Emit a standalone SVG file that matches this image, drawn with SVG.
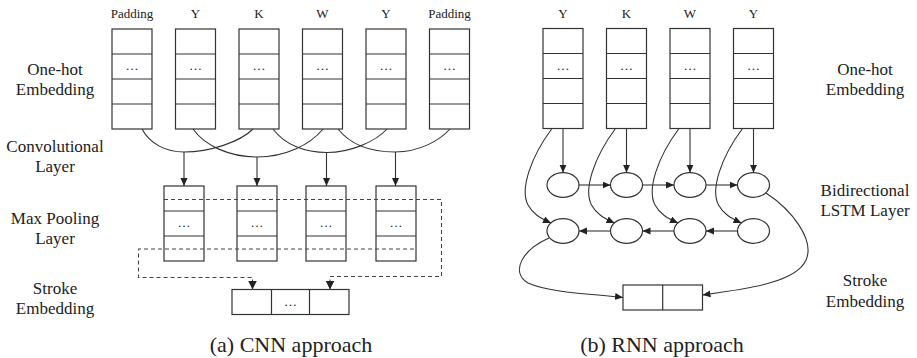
<svg xmlns="http://www.w3.org/2000/svg" width="917" height="358" viewBox="0 0 917 358">
  <style>
    text { font-family: "Liberation Serif", "Times New Roman", serif; fill: #222; text-anchor: middle; }
    .tok { font-size: 13px; }
    .lbl { font-size: 17px; }
    .cap { font-size: 22px; }
    .dots { font-size: 13px; }
    .box { fill: #fff; stroke: #333; stroke-width: 1.2; }
    .rule { stroke: #333; stroke-width: 1.2; fill: none; }
    .cell { fill: #fff; stroke: #333; stroke-width: 1.2; }
    .wire { fill: none; stroke: #333; stroke-width: 1.1; }
    .arrow { marker-end: url(#head); }
    .dash { fill: none; stroke: #444; stroke-width: 1.1; stroke-dasharray: 4 3; marker-end: url(#headBig); }
  </style>
  <defs>
    <marker id="head" markerUnits="userSpaceOnUse" markerWidth="8" markerHeight="8" refX="8" refY="3.5" orient="auto">
      <path d="M0,0 L8,3.5 L0,7 z" fill="#222"/>
    </marker>
    <marker id="headBig" markerUnits="userSpaceOnUse" markerWidth="10" markerHeight="10" refX="9" refY="4.5" orient="auto">
      <path d="M0,0 L9,4.5 L0,9 z" fill="#222"/>
    </marker>
    <!-- four-row embedding column, 40 x 100 -->
    <g id="col4">
      <rect class="box" x="0" y="0" width="40" height="100"/>
      <path class="rule" d="M0,25 H40 M0,50 H40 M0,75 H40"/>
      <text class="dots" x="20" y="41">…</text>
    </g>
    <!-- three-row pooled column, 40 x 75 -->
    <g id="col3">
      <rect class="box" x="0" y="0" width="40" height="75"/>
      <path class="rule" d="M0,25 H40 M0,50 H40"/>
      <text class="dots" x="20" y="41">…</text>
    </g>
  </defs>

  <!-- ===== (a) CNN ===== -->
  <g id="cnn-labels">
    <text class="lbl" x="55" y="75">One-hot</text>
    <text class="lbl" x="55" y="95">Embedding</text>
    <text class="lbl" x="55" y="152">Convolutional</text>
    <text class="lbl" x="55" y="172">Layer</text>
    <text class="lbl" x="55" y="224">Max Pooling</text>
    <text class="lbl" x="55" y="244">Layer</text>
    <text class="lbl" x="55" y="294">Stroke</text>
    <text class="lbl" x="55" y="314">Embedding</text>
  </g>

  <g id="cnn-in-0"><text class="tok" x="132" y="18">Padding</text><use href="#col4" x="112" y="29"/></g>
  <g id="cnn-in-1"><text class="tok" x="195.5" y="18">Y</text><use href="#col4" x="175.5" y="29"/></g>
  <g id="cnn-in-2"><text class="tok" x="259" y="18">K</text><use href="#col4" x="239" y="29"/></g>
  <g id="cnn-in-3"><text class="tok" x="322.5" y="18">W</text><use href="#col4" x="302.5" y="29"/></g>
  <g id="cnn-in-4"><text class="tok" x="386" y="18">Y</text><use href="#col4" x="366" y="29"/></g>
  <g id="cnn-in-5"><text class="tok" x="449.5" y="18">Padding</text><use href="#col4" x="429.5" y="29"/></g>

  <g id="cnn-pool-0"><use href="#col3" x="164" y="186"/></g>
  <g id="cnn-pool-1"><use href="#col3" x="237" y="186"/></g>
  <g id="cnn-pool-2"><use href="#col3" x="306" y="186"/></g>
  <g id="cnn-pool-3"><use href="#col3" x="376" y="186"/></g>

  <g id="cnn-stroke">
    <rect class="box" x="232" y="289.5" width="117" height="25"/>
    <path class="rule" d="M271.5,289.5 V314.5 M309.5,289.5 V314.5"/>
    <text class="dots" x="290.5" y="306">…</text>
  </g>

  <g id="cnn-connectors">
    <!-- convolution windows -->
    <path class="wire" d="M142,129 C150,144 166,152 184,152 C210,152 240,142 253,129"/>
    <path class="wire" d="M193,129 C205,146 230,157 257,157 C285,157 310,145 323,129"/>
    <path class="wire" d="M273,129 C285,145 305,152.5 327,152.5 C350,152.5 375,142 387,129"/>
    <path class="wire" d="M338,129 C350,144 370,152 395,152 C420,152 440,140 450,129"/>
    <path class="wire arrow" d="M184,152 V186"/>
    <path class="wire arrow" d="M257,157 V186"/>
    <path class="wire arrow" d="M326.5,152.5 V186"/>
    <path class="wire arrow" d="M395.5,152 V186"/>
    <!-- pooled rows gathered into the stroke vector -->
    <path class="dash" d="M164,199.5 H441.5 V276.5 H330 V289.5"/>
    <path class="dash" d="M414,249 H138.5 V277.5 H252.5 V289.5"/>
  </g>

  <text class="cap" x="291" y="352">(a) CNN approach</text>

  <!-- ===== (b) RNN ===== -->
  <g id="rnn-labels">
    <text class="lbl" x="865" y="75">One-hot</text>
    <text class="lbl" x="865" y="95">Embedding</text>
    <text class="lbl" x="865" y="196">Bidirectional</text>
    <text class="lbl" x="865" y="216">LSTM Layer</text>
    <text class="lbl" x="865" y="286">Stroke</text>
    <text class="lbl" x="865" y="307">Embedding</text>
  </g>

  <g id="rnn-in-0"><text class="tok" x="563" y="18">Y</text><use href="#col4" x="543" y="28.5"/></g>
  <g id="rnn-in-1"><text class="tok" x="626.5" y="18">K</text><use href="#col4" x="606.5" y="28.5"/></g>
  <g id="rnn-in-2"><text class="tok" x="690" y="18">W</text><use href="#col4" x="670" y="28.5"/></g>
  <g id="rnn-in-3"><text class="tok" x="753.5" y="18">Y</text><use href="#col4" x="733.5" y="28.5"/></g>

  <g id="rnn-fw-0"><ellipse class="cell" cx="563" cy="185" rx="16" ry="12.3"/></g>
  <g id="rnn-fw-1"><ellipse class="cell" cx="626.5" cy="185" rx="16" ry="12.3"/></g>
  <g id="rnn-fw-2"><ellipse class="cell" cx="690" cy="185" rx="16" ry="12.3"/></g>
  <g id="rnn-fw-3"><ellipse class="cell" cx="753.5" cy="185" rx="16" ry="12.3"/></g>
  <g id="rnn-bw-0"><ellipse class="cell" cx="563" cy="231" rx="16" ry="12.3"/></g>
  <g id="rnn-bw-1"><ellipse class="cell" cx="626.5" cy="231" rx="16" ry="12.3"/></g>
  <g id="rnn-bw-2"><ellipse class="cell" cx="690" cy="231" rx="16" ry="12.3"/></g>
  <g id="rnn-bw-3"><ellipse class="cell" cx="753.5" cy="231" rx="16" ry="12.3"/></g>

  <g id="rnn-stroke">
    <rect class="box" x="623" y="285" width="79.5" height="25"/>
    <path class="rule" d="M662.7,285 V310"/>
  </g>

  <g id="rnn-connectors">
    <!-- inputs to forward cells -->
    <path class="wire arrow" d="M563,128.5 V172.7"/>
    <path class="wire arrow" d="M626.5,128.5 V172.7"/>
    <path class="wire arrow" d="M690,128.5 V172.7"/>
    <path class="wire arrow" d="M753.5,128.5 V172.7"/>
    <!-- inputs to backward cells -->
    <path class="wire arrow" d="M552,128.5 C530,158 520,190 528,205 C533,214 540,218 551,223"/>
    <path class="wire arrow" d="M615.5,128.5 C593.5,158 583.5,190 591.5,205 C596.5,214 603.5,218 614.5,223"/>
    <path class="wire arrow" d="M679,128.5 C657,158 647,190 655,205 C660,214 667,218 678,223"/>
    <path class="wire arrow" d="M742.5,128.5 C720.5,158 710.5,190 718.5,205 C723.5,214 730.5,218 741.5,223"/>
    <!-- forward chain -->
    <path class="wire arrow" d="M579,185 H610.5"/>
    <path class="wire arrow" d="M642.5,185 H674"/>
    <path class="wire arrow" d="M706,185 H737.5"/>
    <!-- backward chain -->
    <path class="wire arrow" d="M737.5,231 H706"/>
    <path class="wire arrow" d="M674,231 H642.5"/>
    <path class="wire arrow" d="M610.5,231 H579"/>
    <!-- final states to the stroke vector -->
    <path class="wire arrow" d="M549,238 C522,250 510,272 528,283 C550,293 595,294 623,297.5"/>
    <path class="wire arrow" d="M766,193 C792,210 815,240 806,260 C796,283 745,289 702.5,295"/>
  </g>

  <text class="cap" x="662" y="352">(b) RNN approach</text>
</svg>
